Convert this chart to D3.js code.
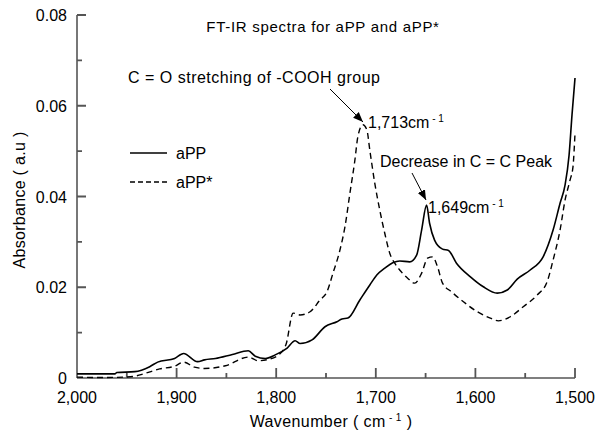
<!DOCTYPE html>
<html>
<head>
<meta charset="utf-8">
<script src="https://cdn.jsdelivr.net/npm/d3@7/dist/d3.min.js"></script>
<style>
  body { margin: 0; background: #fff; }
  svg text { font-family: "Liberation Sans", Arial, sans-serif; fill: #000; }
</style>
</head>
<body>
<svg id="chart" width="598" height="433"></svg>
<script>
(function(){
  // aPP (solid)
  var appWave = [2000, 1962, 1960, 1942, 1927, 1919, 1902, 1893, 1879, 1872, 1861, 1844, 1828, 1821, 1811, 1801,
    1789, 1781, 1776, 1764, 1751, 1739, 1734, 1728, 1716, 1706, 1699, 1691, 1683, 1676, 1666, 1659, 1654,
    1649, 1646, 1641, 1633, 1627, 1619, 1605, 1592, 1578, 1568, 1558, 1545, 1532, 1522, 1515, 1510, 1506, 1503, 1500];
  var appAbs = [0.0009, 0.0009, 0.0012, 0.0014, 0.0025, 0.0035, 0.0043, 0.0054, 0.0036, 0.0040, 0.0043, 0.0052, 0.0060, 0.0048, 0.0043, 0.0051,
    0.0066, 0.0082, 0.0076, 0.0084, 0.0113, 0.0124, 0.0130, 0.0132, 0.0172, 0.0205, 0.0227, 0.0242, 0.0254, 0.0258, 0.0256, 0.0271, 0.0326,
    0.0381, 0.0341, 0.0304, 0.0284, 0.0281, 0.0253, 0.0223, 0.0201, 0.0187, 0.0194, 0.0218, 0.0238, 0.0267, 0.0326, 0.0385, 0.0425, 0.0490, 0.0580, 0.0661];

  // aPP* (dashed)
  var apsWave = [2000, 1977, 1952, 1942, 1932, 1917, 1902, 1893, 1882, 1872, 1851, 1828, 1818, 1808, 1796, 1790,
    1783, 1776, 1766, 1756, 1749, 1743, 1736, 1731, 1726, 1721, 1718, 1713, 1709, 1706, 1701, 1696, 1691,
    1686, 1681, 1676, 1668, 1661, 1654, 1648, 1643, 1638, 1633, 1624, 1612, 1598, 1585, 1577, 1565, 1552,
    1538, 1528, 1522, 1515, 1510, 1505, 1502, 1500];
  var apsAbs = [0.0002, 0.0001, 0.0002, 0.0004, 0.0010, 0.0020, 0.0026, 0.0035, 0.0024, 0.0021, 0.0027, 0.0046, 0.0038, 0.0041, 0.0054, 0.0075,
    0.0143, 0.0139, 0.0146, 0.0172, 0.0190, 0.0231, 0.0282, 0.0333, 0.0407, 0.0480, 0.0532, 0.0558, 0.0547, 0.0502, 0.0429, 0.0370, 0.0319,
    0.0275, 0.0253, 0.0238, 0.0220, 0.0209, 0.0231, 0.0264, 0.0267, 0.0245, 0.0209, 0.0190, 0.0168, 0.0146, 0.0132, 0.0126, 0.0135, 0.0157,
    0.0183, 0.0212, 0.0260, 0.0326, 0.0392, 0.0436, 0.0466, 0.0539];

  var xTicks = [2000, 1900, 1800, 1700, 1600, 1500];
  var xMinor = [1950, 1850, 1750, 1650, 1550];
  var yTicks = [0, 0.02, 0.04, 0.06, 0.08];
  var yMinor = [0.01, 0.03, 0.05, 0.07];

  var svg = d3.select('#chart');
  var left = 77, right = 575, top = 15, bottom = 378;

  var x = d3.scaleLinear().domain([2000, 1500]).range([left, right]);
  var y = d3.scaleLinear().domain([0, 0.08]).range([bottom, top]);

  // Axes, ticks point inward
  var ax = svg.append('g').attr('stroke', '#555').attr('stroke-width', 1.6).attr('fill', 'none');
  ax.append('line').attr('x1', left).attr('x2', left).attr('y1', y(0.08)).attr('y2', y(0));
  ax.append('line').attr('x1', left).attr('x2', x(1500)).attr('y1', y(0)).attr('y2', y(0));
  var tp = d3.path();
  xTicks.slice(1).concat(xMinor).forEach(function(d) {
    tp.moveTo(x(d), bottom); tp.lineTo(x(d), bottom - (d % 100 === 0 ? 10 : 5));
  });
  yTicks.slice(1).concat(yMinor).forEach(function(d) {
    tp.moveTo(left, y(d)); tp.lineTo(left + (yTicks.indexOf(d) >= 0 ? 9 : 5), y(d));
  });
  ax.append('path').attr('d', tp.toString()).attr('stroke-width', 1.8);

  // Tick labels
  svg.selectAll('.xlab').data(xTicks).enter().append('text')
    .attr('x', function(d) { return x(d); }).attr('y', 403)
    .attr('text-anchor', 'middle').style('font-size', '16px')
    .text(d3.format(','));
  svg.selectAll('.ylab').data(yTicks).enter().append('text')
    .attr('x', 67).attr('y', function(d) { return y(d) + 6; })
    .attr('text-anchor', 'end').style('font-size', '16px')
    .text(function(d) { return d === 0 ? '0' : d3.format('.2f')(d); });

  // Axis titles
  var xt = svg.append('text').attr('x', 331).attr('y', 427).attr('text-anchor', 'middle')
    .style('font-size', '16px').style('letter-spacing', '0.4px');
  xt.append('tspan').text('Wavenumber ( cm');
  xt.append('tspan').attr('dy', -6).style('font-size', '10px').text(' - 1');
  xt.append('tspan').attr('dy', 6).text(' )');
  svg.append('text').attr('transform', 'translate(25,200) rotate(-90)').attr('text-anchor', 'middle')
    .style('font-size', '16px').style('letter-spacing', '0.3px').text('Absorbance ( a.u )');

  // Title
  svg.append('text').attr('x', 323).attr('y', 32).attr('text-anchor', 'middle')
    .style('font-size', '15px').style('letter-spacing', '0.7px').text('FT-IR spectra for aPP and aPP*');

  // Curves
  var line = d3.line().x(function(d) { return x(d[0]); }).y(function(d) { return y(d[1]); }).curve(d3.curveMonotoneX);
  svg.append('path').datum(d3.zip(appWave, appAbs)).attr('d', line)
    .attr('fill', 'none').attr('stroke', '#000').attr('stroke-width', 1.6);
  svg.append('path').datum(d3.zip(apsWave, apsAbs)).attr('d', line)
    .attr('fill', 'none').attr('stroke', '#000').attr('stroke-width', 1.4).attr('stroke-dasharray', '6,4');

  // Legend
  svg.append('line').attr('x1', 130).attr('x2', 167).attr('y1', 153).attr('y2', 153).attr('stroke', '#000').attr('stroke-width', 1.6);
  svg.append('line').attr('x1', 130).attr('x2', 167).attr('y1', 182).attr('y2', 182).attr('stroke', '#000').attr('stroke-width', 1.4).attr('stroke-dasharray', '5,3');
  svg.append('text').attr('x', 176).attr('y', 159).style('font-size', '16px').text('aPP');
  svg.append('text').attr('x', 176).attr('y', 188).style('font-size', '16px').text('aPP*');

  // Annotations
  svg.append('defs').append('marker').attr('id', 'arr').attr('viewBox', '0 0 10 10')
    .attr('refX', 10).attr('refY', 5).attr('markerWidth', 10).attr('markerHeight', 10)
    .attr('markerUnits', 'userSpaceOnUse').attr('orient', 'auto')
    .append('path').attr('d', 'M0,1 L10,5 L0,9 Z').attr('fill', '#000');

  svg.append('text').attr('x', 128).attr('y', 83).style('font-size', '16px').style('letter-spacing', '0.5px')
    .text('C = O stretching of -COOH group');
  svg.append('line').attr('x1', 330).attr('y1', 89).attr('x2', 363).attr('y2', 122)
    .attr('stroke', '#000').attr('stroke-width', 1).attr('marker-end', 'url(#arr)');
  var l1 = svg.append('text').attr('x', 368).attr('y', 128).style('font-size', '16px');
  l1.append('tspan').text('1,713cm');
  l1.append('tspan').attr('dy', -6).style('font-size', '10px').text(' - 1');

  svg.append('text').attr('x', 380).attr('y', 167).style('font-size', '16px').text('Decrease in C = C Peak');
  svg.append('line').attr('x1', 412).attr('y1', 173).attr('x2', 426).attr('y2', 200)
    .attr('stroke', '#000').attr('stroke-width', 1).attr('marker-end', 'url(#arr)');
  var l2 = svg.append('text').attr('x', 428).attr('y', 213).style('font-size', '16px');
  l2.append('tspan').text('1,649cm');
  l2.append('tspan').attr('dy', -6).style('font-size', '10px').text(' - 1');
})();
</script>
</body>
</html>
